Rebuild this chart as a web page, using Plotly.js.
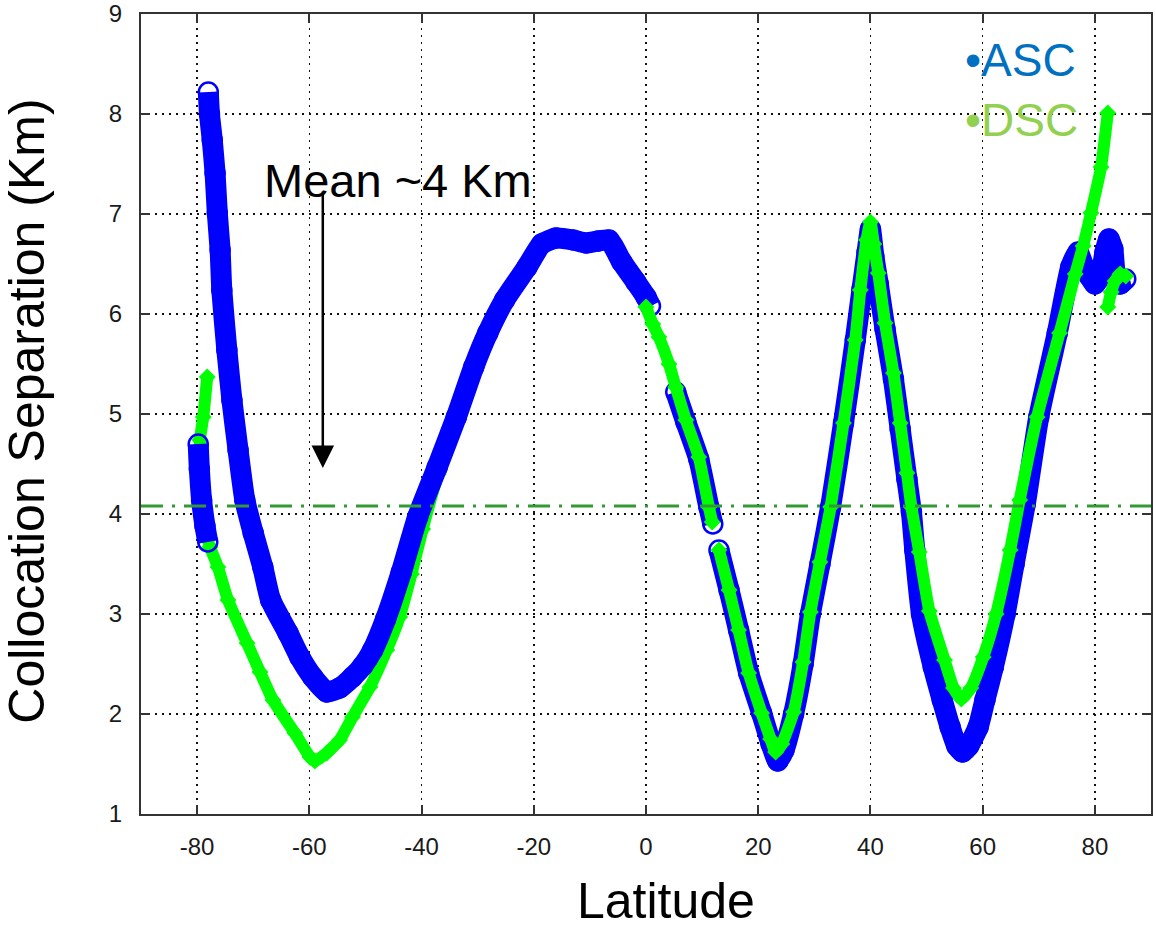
<!DOCTYPE html>
<html>
<head>
<meta charset="utf-8">
<script src="https://cdn.plot.ly/plotly-3.0.1.min.js"></script>
<style>
  html, body { margin: 0; padding: 0; background: #ffffff; }
  #chart { width: 1156px; height: 932px; }
</style>
</head>
<body>
<div id="chart"></div>
<script>
// Ascending-pass collocation separation (km) versus latitude; null breaks the track.
const ascLat = [
  -79.8, -79.6, -79.2, -78.6, -78.1, null,
  -78.0, -77.8, -77.3, -76.8, -76.4, -75.9, -75.6, -74.7, -73.8, -72.7, -71.5, -70.0,
  -68.3, -66.9, -63.8, -61.7, -59.4, -56.9, -54.6, -52.3, -50.5, -48.7, -46.4, -43.6,
  -40.7, -37.2, -33.8, -30.7, -28.2, -25.2, -21.2, -18.6, -16.0, -13.0, -10.7, -8.5,
  -6.6, -4.3, -1.8, 0.0, 0.8, null,
  5.3, 7.1, 9.4, 11.2, 11.9, null,
  13.0, 14.8, 16.5, 18.3, 20.6, 22.3, 23.5, 24.6, 26.3, 28.0, 29.3, 31.0, 32.9, 35.2,
  37.3, 38.5, 39.4, 40.0, 40.6, 41.4, 42.6, 44.1, 45.3, 46.5, 47.3, 47.9, 49.1, 51.2,
  52.8, 54.2, 55.4, 56.4, 57.5, 59.2, 60.4, 61.9, 64.0, 65.6, 67.6, 70.0, 73.3, 75.7,
  77.0, 78.0, 79.0, 80.0, 81.0, 81.8, 82.5, 83.2, 83.6, 84.5, 85.5
];
const ascSep = [
  4.70, 4.45, 4.14, 3.88, 3.72, null,
  8.22, 8.00, 7.74, 7.41, 7.01, 6.64, 6.24, 5.64, 5.14, 4.64, 4.14, 3.81,
  3.47, 3.14, 2.81, 2.57, 2.37, 2.22, 2.26, 2.37, 2.48, 2.64, 2.95, 3.42,
  3.97, 4.47, 4.97, 5.47, 5.81, 6.14, 6.47, 6.70, 6.76, 6.74, 6.71, 6.73,
  6.74, 6.52, 6.32, 6.17, 6.08, null,
  5.22, 4.92, 4.55, 4.07, 3.90, null,
  3.64, 3.24, 2.84, 2.41, 2.01, 1.70, 1.53, 1.64, 2.00, 2.50, 3.00, 3.50, 4.07, 4.91,
  5.74, 6.25, 6.62, 6.85, 6.58, 6.30, 5.85, 5.35, 4.85, 4.35, 4.02, 3.64, 3.00, 2.47,
  2.14, 1.87, 1.68, 1.62, 1.68, 1.87, 2.14, 2.47, 3.00, 3.50, 4.10, 4.97, 5.81, 6.47,
  6.62, 6.48, 6.38, 6.30, 6.38, 6.62, 6.75, 6.65, 6.42, 6.30, 6.35
];

// Descending pass, southern stretch (drawn beneath the ascending track).
const dscSouthLat = [
  -78.2, -78.9, -79.5, -79.5, -78.9, -77.7, -76.3, -74.5, -71.1, -68.8, -66.5, -62.6,
  -59.9, -59.0, -56.9, -54.6, -52.3, -49.2, -46.2, -43.9, -41.8, -39.8, -37.0, -33.5,
  -30.5, -27.8, -24.8, -21.0, -18.0
];
const dscSouthSep = [
  5.37, 4.97, 4.74, 4.30, 3.90, 3.67, 3.47, 3.14, 2.71, 2.42, 2.14, 1.81,
  1.57, 1.53, 1.61, 1.74, 1.97, 2.27, 2.64, 2.97, 3.40, 3.85, 4.40, 4.95,
  5.45, 5.85, 6.18, 6.50, 6.68
];

// Descending pass, equator northwards (drawn over the ascending track).
const dscNorthLat = [
  0.0, 1.2, 2.3, 4.1, 5.3, 7.1, 9.4, 11.2, 11.8, null,
  13.0, 14.8, 16.5, 18.3, 20.6, 22.2, 23.1, 24.2, 26.3, 28.0, 29.3, 31.0, 32.9, 35.2,
  37.3, 38.2, 39.3, 40.0, 40.6, 41.4, 42.6, 44.1, 45.3, 46.5, 47.3, 48.7, 50.5, 53.2,
  54.8, 56.2, 57.9, 60.1, 62.4, 64.9, 66.6, 69.7, 73.7, 76.5, 77.9, 79.3, 81.1, 82.3, null,
  82.3, 82.9, 83.6, 84.5, 85.5
];
const dscNorthSep = [
  6.07, 5.90, 5.77, 5.50, 5.27, 4.94, 4.57, 4.07, 3.92, null,
  3.64, 3.24, 2.84, 2.41, 2.01, 1.75, 1.62, 1.70, 2.02, 2.52, 3.02, 3.52, 4.07, 4.91,
  5.74, 6.24, 6.74, 6.92, 6.70, 6.41, 5.91, 5.41, 4.91, 4.41, 4.07, 3.62, 3.03, 2.54,
  2.26, 2.15, 2.26, 2.57, 3.00, 3.64, 4.14, 4.97, 5.81, 6.40, 6.68, 7.01, 7.47, 8.01, null,
  6.07, 6.22, 6.33, 6.40, 6.38
];

const meanSep = 4.08;
const xTickVals = [-80, -60, -40, -20, 0, 20, 40, 60, 80];
const xTickLabels = ['-80', '-60', '-40', '-20', '0', '20', '40', '60', '80'];
const yTickVals = [1, 2, 3, 4, 5, 6, 7, 8, 9];
const yTickLabels = ['1', '2', '3', '4', '5', '6', '7', '8', '9'];

const BLUE = '#0000FF';
const GREEN = '#00FF00';
const textFont = 'Liberation Sans, Arial, sans-serif';
const tickFont = 'Liberation Sans Narrow, Arial Narrow, Liberation Sans, Arial, sans-serif';

const dscStyle = {
  type: 'scatter', mode: 'lines+markers', hoverinfo: 'skip', connectgaps: false,
  line: { color: GREEN, width: 12, shape: 'spline', smoothing: 0.5 },
  marker: { symbol: 'diamond', size: 13, color: GREEN, line: { width: 0 } }
};

const traces = [
  Object.assign({}, dscStyle, { x: dscSouthLat, y: dscSouthSep, name: 'DSC' }),
  {
    type: 'scatter', mode: 'lines+markers', name: 'ASC', hoverinfo: 'skip', connectgaps: false,
    x: ascLat, y: ascSep,
    line: { color: BLUE, width: 21, shape: 'spline', smoothing: 0.5 },
    marker: { symbol: 'circle-open', size: 19, color: BLUE, line: { color: BLUE, width: 2.5 } }
  },
  Object.assign({}, dscStyle, { x: dscNorthLat, y: dscNorthSep, name: 'DSC' })
];

const axisCommon = {
  showline: true, linecolor: '#333333', linewidth: 2, mirror: 'ticks',
  ticks: 'inside', ticklen: 9, tickwidth: 2, tickcolor: '#333333',
  showgrid: true, gridcolor: '#111111', gridwidth: 1.6, griddash: '2px,5px',
  zeroline: false, tickmode: 'array',
  tickfont: { family: tickFont, size: 24, color: '#1a1a1a' }
};

const layout = {
  width: 1156, height: 932,
  margin: { l: 141, r: 5, t: 14, b: 118 },
  paper_bgcolor: '#ffffff', plot_bgcolor: '#ffffff',
  showlegend: false,
  xaxis: Object.assign({}, axisCommon, {
    range: [-90, 90], tickvals: xTickVals, ticktext: xTickLabels, ticklabelstandoff: 10
  }),
  yaxis: Object.assign({}, axisCommon, {
    range: [1, 9], tickvals: yTickVals, ticktext: yTickLabels, ticklabelstandoff: 12
  }),
  shapes: [{
    type: 'line', xref: 'paper', x0: 0, x1: 1, yref: 'y', y0: meanSep, y1: meanSep,
    line: { color: '#339933', width: 3, dash: '22px,9px,3px,9px' }, layer: 'above'
  }],
  annotations: [
    {
      xref: 'paper', yref: 'paper', x: 0.52, y: -0.109, xanchor: 'center', yanchor: 'middle',
      text: 'Latitude', showarrow: false, font: { family: textFont, size: 50, color: '#000000' }
    },
    {
      xref: 'paper', yref: 'paper', x: -0.113, y: 0.504, xanchor: 'center', yanchor: 'middle',
      text: 'Collocation Separation (Km)', textangle: -90, showarrow: false,
      font: { family: textFont, size: 50, color: '#000000' }
    },
    {
      xref: 'paper', yref: 'paper', x: 0.2545, y: 0.7925, xanchor: 'center', yanchor: 'middle',
      text: 'Mean ~4 Km', showarrow: false, font: { family: textFont, size: 47, color: '#000000' }
    },
    {
      xref: 'x', yref: 'y', x: -57.6, y: 4.46, axref: 'x', ayref: 'y', ax: -57.6, ay: 7.24,
      text: '', showarrow: true, arrowhead: 2, arrowsize: 1.8, arrowwidth: 2.5, arrowcolor: '#000000'
    },
    {
      xref: 'paper', yref: 'paper', x: 0.8139, y: 0.9425, xanchor: 'left', yanchor: 'middle',
      text: '•ASC', showarrow: false, font: { family: textFont, size: 46, color: '#0070C0' }
    },
    {
      xref: 'paper', yref: 'paper', x: 0.8139, y: 0.8675, xanchor: 'left', yanchor: 'middle',
      text: '•DSC', showarrow: false, font: { family: textFont, size: 46, color: '#92D050' }
    }
  ]
};

Plotly.newPlot('chart', traces, layout, { staticPlot: true, displayModeBar: false });
</script>
</body>
</html>
